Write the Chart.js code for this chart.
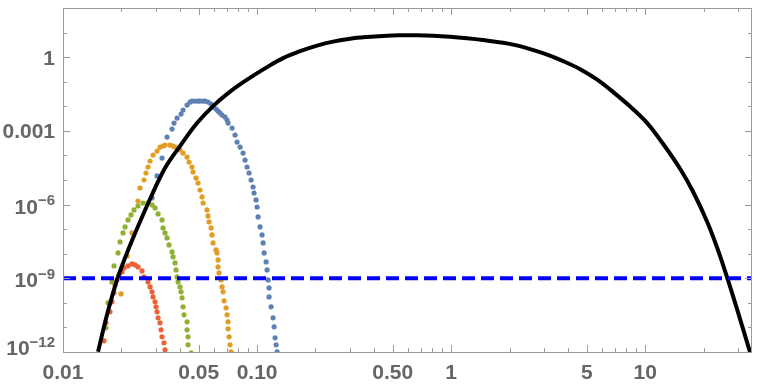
<!DOCTYPE html>
<html>
<head>
<meta charset="utf-8">
<script src="https://cdn.jsdelivr.net/npm/chart.js@4.4.1/dist/chart.umd.min.js"></script>
<style>
  html, body { margin: 0; padding: 0; background: #fff; }
</style>
</head>
<body>
<canvas id="chart" width="763" height="390"></canvas>
<script>
const xTicks = [0.01, 0.05, 0.1, 0.5, 1, 5, 10];
const xTickLabels = ['0.01', '0.05', '0.10', '0.50', '1', '5', '10'];
const yTicks = [1e-12, 1e-9, 1e-6, 1e-3, 1];
// [base, exponent] - exponent drawn as superscript
const yTickLabels = [['10', '−12'], ['10', '−9'], ['10', '−6'], ['0.001', ''], ['1', '']];
const xMin = 0.01, xMax = 35.5, yMin = 1e-12, yMax = 100;
const threshold = 1e-9;

// solid black curve
const curveX = [0.01515, 0.01686, 0.01898, 0.02087, 0.02296, 0.02809, 0.03355, 0.0401, 0.04906, 0.05932, 0.07258, 0.08882, 0.1126, 0.1361, 0.1666, 0.2038, 0.2465, 0.3015, 0.369, 0.4462, 0.5459, 0.668, 0.8076, 0.9881, 1.209, 1.462, 1.726, 2.087, 2.554, 3.124, 3.779, 4.623, 5.657, 6.842, 8.37, 10.24, 12.38, 15.15, 17.68, 20.87, 23.5, 26.47, 29.81, 34.77];
const curveY = [1.02e-12, 3.25e-11, 8.61e-10, 6.75e-9, 4.39e-8, 1.69e-6, 3.07e-5, 2.41e-4, 2.07e-3, 1.02e-2, 0.0396, 0.1217, 0.392, 0.911, 1.754, 2.934, 4.267, 5.649, 6.624, 7.275, 7.697, 7.769, 7.482, 6.813, 5.922, 5.003, 4.149, 3.222, 2.114, 1.264, 0.688, 0.325, 0.1217, 0.0378, 9.72e-3, 2.07e-3, 2.91e-4, 2.8e-5, 3.25e-6, 1.96e-7, 1.72e-8, 1.04e-9, 5.19e-11, 9.27e-13];

// dotted series
const blueX = [0.02876, 0.03052, 0.03238, 0.03436, 0.03647, 0.03734, 0.03869, 0.04057, 0.04155, 0.04357, 0.04514, 0.04623, 0.04791, 0.04965, 0.05084, 0.05268, 0.05395, 0.0559, 0.05793, 0.05932, 0.06147, 0.06295, 0.06446, 0.06602, 0.06842, 0.07006, 0.07088, 0.07432, 0.07702, 0.07887, 0.08173, 0.08469, 0.08672, 0.08882, 0.09095, 0.09314, 0.09537, 0.0965, 0.09881, 0.1, 0.1012, 0.1036, 0.1061, 0.1074, 0.1087, 0.1113, 0.1126, 0.114, 0.1153, 0.1153, 0.1181, 0.1209, 0.1224, 0.1238, 0.1253, 0.1268];
const blueY = [1.85e-6, 1.46e-5, 7.84e-5, 5.6e-4, 1.18e-3, 2.07e-3, 3.31e-3, 4.82e-3, 7.01e-3, 1.12e-2, 1.48e-2, 1.63e-2, 1.63e-2, 1.63e-2, 1.63e-2, 1.63e-2, 1.63e-2, 1.48e-2, 1.23e-2, 9.27e-3, 7.69e-3, 6.38e-3, 5.29e-3, 4.39e-3, 3.64e-3, 2.75e-3, 2.07e-3, 1.3e-3, 6.75e-4, 3.51e-4, 2.19e-4, 1.25e-4, 6.5e-5, 3.38e-5, 1.93e-5, 1.0e-5, 5.19e-6, 2.96e-6, 1.54e-6, 7.98e-7, 3.13e-7, 1.23e-7, 5.81e-8, 2.75e-8, 1.08e-8, 4.65e-9, 2.19e-9, 8.61e-10, 4.07e-10, 1.75e-10, 6.88e-11, 2.45e-11, 1.06e-11, 3.78e-12, 1.96e-12, 1.02e-12];

const orangeX = [0.01991, 0.02138, 0.02268, 0.02435, 0.02494, 0.02615, 0.02678, 0.02743, 0.02809, 0.02911, 0.03052, 0.03162, 0.03276, 0.03355, 0.03561, 0.0369, 0.03779, 0.03916, 0.0401, 0.04155, 0.04357, 0.04461, 0.04623, 0.04678, 0.04849, 0.04965, 0.05084, 0.05206, 0.05268, 0.05524, 0.0559, 0.05657, 0.05793, 0.05861, 0.05932, 0.06147, 0.0622, 0.06295, 0.06295, 0.0637, 0.06523, 0.06602, 0.0668, 0.06761, 0.06922, 0.07006, 0.07088, 0.07088, 0.07174, 0.07258, 0.07345];
const orangeY = [2.32e-10, 8.14e-9, 7.01e-8, 1.4e-6, 4.73e-6, 1.0e-5, 1.93e-5, 3.38e-5, 5.92e-5, 1.04e-4, 1.51e-4, 2.19e-4, 2.41e-4, 2.65e-4, 2.65e-4, 2.41e-4, 2.19e-4, 2.0e-4, 1.66e-4, 1.25e-4, 8.61e-5, 5.39e-5, 3.38e-5, 2.12e-5, 1.21e-5, 7.55e-6, 3.92e-6, 2.04e-6, 1.16e-6, 6.03e-7, 3.44e-7, 1.96e-7, 1.12e-7, 5.81e-8, 2.75e-8, 1.43e-8, 1.08e-8, 5.6e-9, 2.91e-9, 1.66e-9, 8.61e-10, 4.47e-10, 2.8e-10, 1.21e-10, 6.26e-11, 3.25e-11, 1.69e-11, 8.77e-12, 4.15e-12, 1.96e-12, 1.02e-12];

const greenX = [0.01666, 0.01706, 0.01789, 0.01832, 0.01921, 0.01967, 0.02038, 0.02087, 0.02163, 0.02241, 0.02323, 0.02435, 0.02584, 0.02743, 0.02876, 0.02981, 0.03089, 0.03238, 0.03276, 0.03355, 0.03436, 0.03519, 0.03647, 0.0369, 0.03779, 0.03824, 0.03869, 0.03916, 0.0401, 0.04057, 0.04106, 0.04155, 0.04204, 0.04357, 0.04357, 0.04409, 0.04409, 0.04569];
const greenY = [9.63e-12, 1.0e-10, 7.14e-10, 3.19e-9, 1.08e-8, 3.02e-8, 7.01e-8, 1.23e-7, 2.37e-7, 3.78e-7, 6.03e-7, 8.77e-7, 1.16e-6, 1.16e-6, 9.63e-7, 7.27e-7, 4.15e-7, 2.37e-7, 1.12e-7, 7.01e-8, 4.39e-8, 2.28e-8, 1.18e-8, 7.41e-9, 4.23e-9, 2.19e-9, 1.14e-9, 7.14e-10, 4.47e-10, 2.8e-10, 1.6e-10, 6.88e-11, 3.25e-11, 1.69e-11, 7.98e-12, 4.15e-12, 1.96e-12, 9.3e-13];

const redX = [0.01627, 0.01666, 0.01747, 0.01789, 0.01832, 0.01854, 0.01898, 0.01944, 0.02014, 0.02063, 0.02163, 0.02268, 0.0235, 0.02435, 0.02554, 0.02615, 0.02743, 0.02809, 0.02876, 0.02911, 0.02981, 0.03017, 0.03052, 0.03089, 0.03162, 0.032, 0.03238, 0.03315, 0.03355];
const redY = [2.85e-12, 1.54e-11, 4.31e-11, 1.1e-10, 2.55e-10, 5.39e-10, 8.61e-10, 1.37e-9, 1.82e-9, 2.65e-9, 3.19e-9, 3.85e-9, 3.51e-9, 2.91e-9, 2.0e-9, 1.14e-9, 7.14e-10, 4.47e-10, 2.8e-10, 1.75e-10, 1.1e-10, 6.88e-11, 4.31e-11, 2.45e-11, 1.54e-11, 7.98e-12, 4.15e-12, 2.37e-12, 1.23e-12];

function pts(xs, ys) {
    return xs.map((x, i) => ({ x: x, y: ys[i] }));
}

function dots(xs, ys, color) {
    return {
        data: pts(xs, ys),
        showLine: false,
        pointRadius: 2.6,
        pointBorderWidth: 0,
        pointBackgroundColor: color,
        borderColor: color,
        order: 3
    };
}

const frameColor = '#9b9b9b';
const labelColor = '#666';
const fontFamily = 'Liberation Sans, Arial, sans-serif';

// Mathematica style frame with inside ticks, plus y labels with superscripts
const framePlugin = {
    id: 'frame',
    afterDraw(chart) {
        const ctx = chart.ctx;
        const a = chart.chartArea;
        const xs = chart.scales.x;
        const ys = chart.scales.y;
        ctx.save();
        ctx.strokeStyle = frameColor;
        ctx.lineWidth = 1;
        ctx.beginPath();
        for (let d = -2; d <= 1; d++) {
            for (let m = 1; m <= 9; m++) {
                const v = m * Math.pow(10, d);
                if (v < xMin || v > xMax) continue;
                const px = Math.round(xs.getPixelForValue(v)) + 0.5;
                const len = (m === 1 || m === 5) ? 7 : 4;
                ctx.moveTo(px, a.bottom); ctx.lineTo(px, a.bottom - len);
                ctx.moveTo(px, a.top); ctx.lineTo(px, a.top + len);
            }
        }
        for (let e = -12; e <= 2; e++) {
            const py = Math.round(ys.getPixelForValue(Math.pow(10, e))) + 0.5;
            const len = (e % 3 === 0) ? 7 : 4;
            ctx.moveTo(a.left, py); ctx.lineTo(a.left + len, py);
            ctx.moveTo(a.right, py); ctx.lineTo(a.right - len, py);
        }
        ctx.stroke();
        ctx.strokeRect(Math.round(a.left) + 0.5, Math.round(a.top) + 0.5,
            Math.round(a.right - a.left) - 1, Math.round(a.bottom - a.top));

        // y tick labels
        ctx.fillStyle = labelColor;
        ctx.textBaseline = 'alphabetic';
        ctx.textAlign = 'left';
        const right = a.left - 8;
        yTicks.forEach((v, i) => {
            const [base, exp] = yTickLabels[i];
            const py = ys.getPixelForValue(v);
            ctx.font = 'bold 21px ' + fontFamily;
            const bw = ctx.measureText(base).width;
            let ew = 0;
            if (exp) {
                ctx.font = 'bold 15px ' + fontFamily;
                ew = ctx.measureText(exp).width;
            }
            // block centred on tick; the bottom one is pushed up into the frame
            let baseline = exp ? py + 9 : py + 7.5;
            if (baseline > a.bottom + 3) baseline = a.bottom + 3;
            const x0 = right - bw - ew;
            ctx.font = 'bold 21px ' + fontFamily;
            ctx.fillText(base, x0, baseline);
            if (exp) {
                ctx.font = 'bold 15px ' + fontFamily;
                ctx.fillText(exp, x0 + bw, baseline - 8.5);
            }
        });
        ctx.restore();
    }
};

new Chart(document.getElementById('chart'), {
    type: 'scatter',
    data: {
        datasets: [
            {
                data: [{ x: xMin, y: threshold }, { x: xMax, y: threshold }],
                showLine: true,
                borderColor: '#0000ff',
                borderWidth: 4,
                borderDash: [13, 6],
                pointRadius: 0,
                order: 1
            },
            {
                data: pts(curveX, curveY),
                showLine: true,
                borderColor: '#000',
                borderWidth: 4,
                tension: 0.35,
                pointRadius: 0,
                order: 2
            },
            dots(blueX, blueY, '#5E81B5'),
            dots(orangeX, orangeY, '#E19C24'),
            dots(greenX, greenY, '#8FB032'),
            dots(redX, redY, '#EB6235')
        ]
    },
    options: {
        responsive: false,
        animation: false,
        layout: { padding: { left: 0, right: 11, top: 8, bottom: 0 } },
        plugins: {
            legend: { display: false },
            tooltip: { enabled: false }
        },
        scales: {
            x: {
                type: 'logarithmic',
                min: xMin,
                max: xMax,
                grid: { display: false, drawTicks: false },
                border: { display: false },
                afterBuildTicks: (scale) => { scale.ticks = xTicks.map(v => ({ value: v })); },
                afterFit: (scale) => {
                    scale.height = 38;
                    scale.paddingLeft = 0;
                    scale.paddingRight = 0;
                },
                ticks: {
                    autoSkip: false,
                    maxRotation: 0,
                    padding: 9,
                    color: labelColor,
                    font: { family: fontFamily, size: 21, weight: 'bold' },
                    callback: (v) => xTickLabels[xTicks.indexOf(v)]
                }
            },
            y: {
                type: 'logarithmic',
                min: yMin,
                max: yMax,
                grid: { display: false, drawTicks: false },
                border: { display: false },
                afterBuildTicks: (scale) => { scale.ticks = yTicks.map(v => ({ value: v })); },
                afterFit: (scale) => {
                    scale.width = 63;
                    scale.paddingTop = 0;
                    scale.paddingBottom = 0;
                },
                ticks: { display: false }
            }
        }
    },
    plugins: [framePlugin]
});
</script>
</body>
</html>
